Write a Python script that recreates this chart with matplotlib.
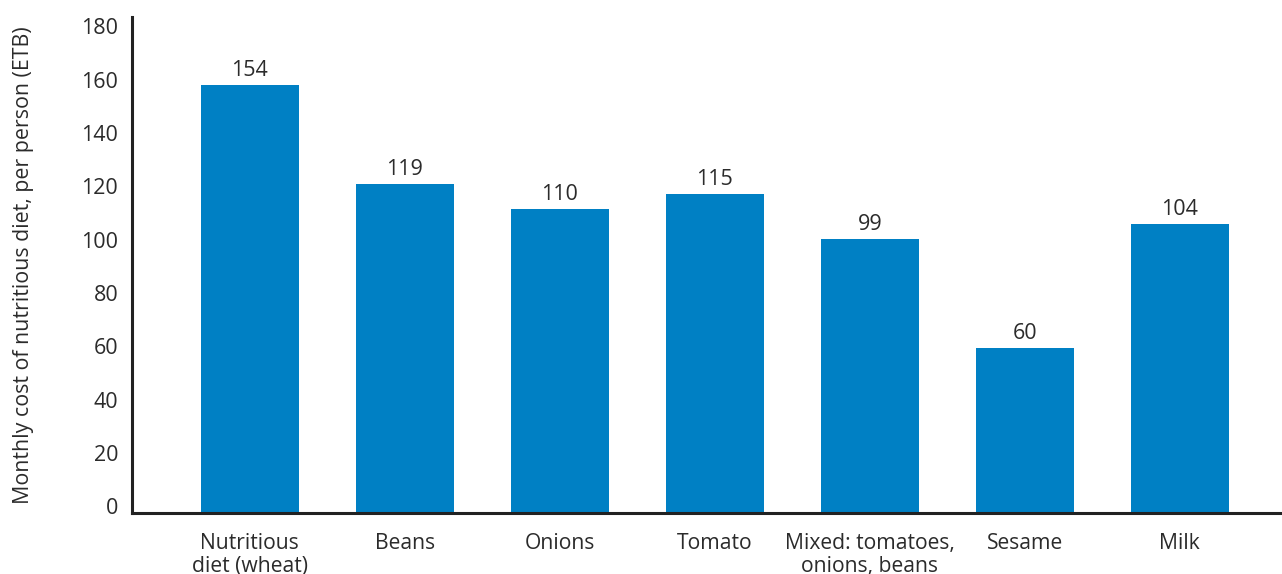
import matplotlib.pyplot as plt

# Data
categories = ["Nutritious\ndiet (wheat)", "Beans", "Onions", "Tomato",
              "Mixed: tomatoes,\nonions, beans", "Sesame", "Milk"]
values = [155.3, 119.4, 110.3, 115.7, 99.4, 59.9, 104.9]
labels = ["154", "119", "110", "115", "99", "60", "104"]
yticks = [0, 20, 40, 60, 80, 100, 120, 140, 160, 180]

plt.rcParams["font.family"] = ["Open Sans", "DejaVu Sans"]
text_color = "#2b2b2b"
fs = 15.5

fig = plt.figure(figsize=(12.82, 5.74), dpi=100)
ax = fig.add_axes([0.103, 0.106, 0.897, 0.864])

x = range(len(categories))
bars = ax.bar(x, values, width=0.63, color="#0080C4")

for xi, v, lab in zip(x, values, labels):
    ax.annotate(lab, (xi, v), xytext=(0, 3), textcoords="offset points",
                ha="center", va="bottom", fontsize=fs, color=text_color)

ax.set_xlim(-0.76, 6.66)
ax.set_ylim(0, 180)
# the tick labels in the original are spaced a bit tighter than the bar scale
ax.set_yticks([2.5 + 0.968 * t for t in yticks])
ax.set_yticklabels([str(t) for t in yticks], fontsize=fs, color=text_color)
ax.set_xticks(list(x))
ax.set_xticklabels(categories, fontsize=15.2, color=text_color, linespacing=1.17)
ax.tick_params(axis="both", length=0)
ax.tick_params(axis="y", pad=10)
ax.tick_params(axis="x", pad=14)

ax.set_ylabel("Monthly cost of nutritious diet, per person (ETB)",
              fontsize=15.4, color=text_color, labelpad=34)

for side in ["top", "right"]:
    ax.spines[side].set_visible(False)
for side in ["left", "bottom"]:
    ax.spines[side].set_linewidth(2.2)
    ax.spines[side].set_color("#222222")

fig.savefig("out.png", dpi=100)
